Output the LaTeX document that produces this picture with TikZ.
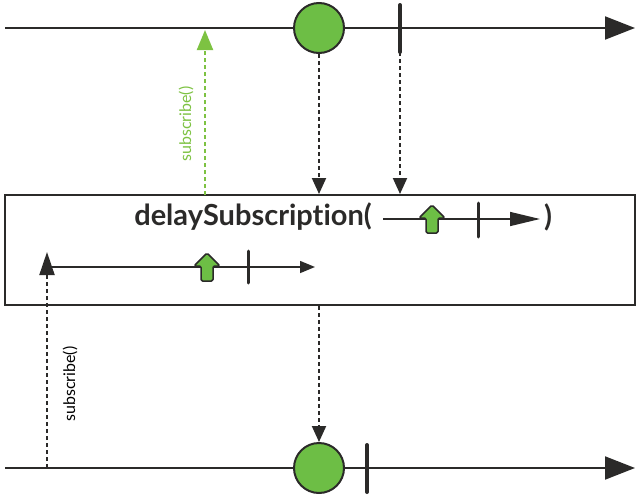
\documentclass[tikz,border=0pt]{standalone}
\usepackage{fontspec}
\setmainfont{Lato}[Ligatures=NoCommon]
\usetikzlibrary{arrows.meta,positioning}
\definecolor{marblegreen}{HTML}{6DBE45}
\definecolor{marbledark}{HTML}{2B2A29}
\definecolor{subgreen}{HTML}{7DC242}

\begin{document}
\begin{tikzpicture}[
			x = 1pt, y = -1pt,
			timeline/.style = {draw=marbledark, line width=2pt, -{Triangle[length=30pt,width=23pt]}},
			smallline/.style = {draw=marbledark, line width=1.5pt},
			emission/.style = {circle, draw=marbledark, line width=2pt, fill=marblegreen, minimum size=50pt, inner sep=0pt},
			stopmark/.style = {draw=marbledark, line width=4pt, line cap=round},
			dotline/.style = {draw=marbledark, line width=2pt, dash pattern=on 4pt off 3pt, -{Triangle[length=16pt,width=14pt]}},
			subtext/.style = {font=\fontsize{16}{16}\selectfont, rotate=90},
			optext/.style = {font=\fontsize{29}{29}\selectfont\bfseries, text=marbledark},
			upblock/.pic = {
				\draw[marbledark, line width=1.5pt, fill=marblegreen, rounded corners=1.5pt, line join=round]
					(-6,14) -- (-6,-1) -- (-13,-1) -- (0,-14) -- (13,-1) -- (6,-1) -- (6,14) -- cycle;
			}]

			\useasboundingbox (0,0) rectangle (640,498);

			% source timeline
			\coordinate (topstart) at (5,28);
			\coordinate (topend) at (635,28);
			\draw[timeline] (topstart) -- (topend);
			\node[emission] (topcircle) at (319,28) {};
			\coordinate (toptick) at (400,52);
			\draw[stopmark] (400,5) -- (toptick);

			% operator box
			\node[draw=marbledark, line width=2pt, minimum width=630pt, minimum height=110pt, inner sep=0pt] (delaybox) at (320,250) {};
			\node[optext] (oplabel) at (253,217) {delaySubscription(};
			\coordinate (opstart) at (383,219);
			\coordinate (opend) at (540,219);
			\draw[smallline, -{Triangle[length=30pt,width=14pt]}] (opstart) -- (opend);
			\pic at (432,219) {upblock};
			\draw[stopmark, line width=3pt] (478,203) -- (478,237);
			\node[optext] (opclose) at (548,217) {)};

			\coordinate (innerstart) at (47,267);
			\coordinate (innerend) at (315,267);
			\draw[smallline, -{Triangle[length=15pt,width=12pt]}] (innerstart) -- (innerend);
			\pic at (207,267) {upblock};
			\draw[stopmark, line width=3pt] (248,251) -- (248,283);

			% result timeline
			\coordinate (botstart) at (5,468);
			\coordinate (botend) at (635,468);
			\draw[timeline] (botstart) -- (botend);
			\node[emission] (botcircle) at (319,468) {};
			\draw[stopmark] (367,445) -- (367,492);

			% connectors
			\draw[dotline] (topcircle.south) -- (topcircle.south |- delaybox.north);
			\draw[dotline] (toptick) -- (toptick |- delaybox.north);
			\draw[dotline] (topcircle |- delaybox.south) -- (botcircle.north);

			\coordinate (greenfoot) at (205,195);
			\coordinate (greentip) at (205,30);
			\draw[draw=subgreen, line width=2pt, dash pattern=on 4pt off 3pt, -{Triangle[length=20pt,width=16pt]}] (greenfoot) -- (greentip);
			\node[subtext, text=subgreen] (greensub) at (186,124) {subscribe()};

			\coordinate (blackfoot) at (47,468);
			\draw[dotline, -{Triangle[length=23pt,width=15pt]}] (blackfoot) -- (47,252);
			\node[subtext] (blacksub) at (70,384) {subscribe()};

		\end{tikzpicture}
\end{document}
